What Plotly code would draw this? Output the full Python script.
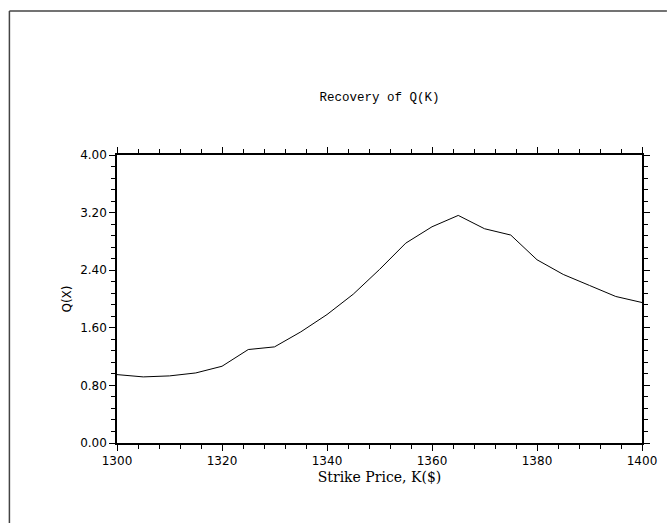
import plotly.graph_objects as go

strike = [1300, 1305, 1310, 1315, 1320, 1325, 1330, 1335, 1340, 1345, 1350,
          1355, 1360, 1365, 1370, 1375, 1380, 1385, 1390, 1395, 1400]
q_values = [0.950, 0.918, 0.932, 0.973, 1.066, 1.298, 1.335, 1.543, 1.784, 2.067, 2.410,
            2.776, 3.003, 3.161, 2.976, 2.888, 2.545, 2.341, 2.188, 2.035, 1.951]

title_text = "Recovery of Q(K)"
x_title = "Strike Price, K($)"
y_title = "Q(X)"

fig = go.Figure()
fig.add_trace(go.Scatter(x=strike, y=q_values, mode="lines",
                         line=dict(color="black", width=1), showlegend=False))

L, R, T, B = 117, 25, 155, 80
W, H = 669, 523
pw, ph = W - L - R, H - T - B

def px_to_paper_x(px):
    return (px - L) / pw

def py_to_paper_y(py):
    return (H - B - py) / ph

border = dict(color="#444444", width=1.5)
fig.add_shape(type="line", xref="paper", yref="paper",
              x0=px_to_paper_x(9), x1=px_to_paper_x(669),
              y0=py_to_paper_y(11), y1=py_to_paper_y(11), line=border)
fig.add_shape(type="line", xref="paper", yref="paper",
              x0=px_to_paper_x(9), x1=px_to_paper_x(9),
              y0=py_to_paper_y(11), y1=py_to_paper_y(523), line=border)

fig.update_layout(
    width=W, height=H,
    margin=dict(l=L, r=R, t=T, b=B, pad=0),
    paper_bgcolor="white", plot_bgcolor="white",
    title=dict(text=title_text, x=px_to_paper_x(380.5), xref="paper", xanchor="center",
               y=1 - 97 / H, yref="container", yanchor="middle",
               font=dict(family="Liberation Mono", size=12.5, color="black")),
)

fig.update_xaxes(
    range=[1300, 1400], tickmode="linear", tick0=1300, dtick=20,
    ticks="outside", ticklen=6, tickwidth=1.2, tickcolor="black",
    showline=True, linecolor="black", linewidth=1.5, mirror="allticks",
    showgrid=False, zeroline=False,
    tickfont=dict(family="DejaVu Sans", size=12, color="black"),
    minor=dict(ticks="outside", ticklen=4, tickwidth=1, tickcolor="black",
               dtick=4, tick0=1300, showgrid=False),
    title=dict(text=x_title, standoff=5,
               font=dict(family="DejaVu Serif", size=14, color="black")),
)

fig.update_yaxes(
    range=[0, 4], tickmode="linear", tick0=0, dtick=0.8, tickformat=".2f",
    ticks="outside", ticklen=6, tickwidth=1.2, tickcolor="black",
    showline=True, linecolor="black", linewidth=1.5, mirror="allticks",
    showgrid=False, zeroline=False,
    tickfont=dict(family="DejaVu Sans", size=12, color="black"),
    minor=dict(ticks="outside", ticklen=4, tickwidth=1, tickcolor="black",
               dtick=0.16, tick0=0, showgrid=False),
    title=dict(text=y_title, standoff=6,
               font=dict(family="DejaVu Sans", size=12, color="black")),
)

fig.write_html("out.html")
